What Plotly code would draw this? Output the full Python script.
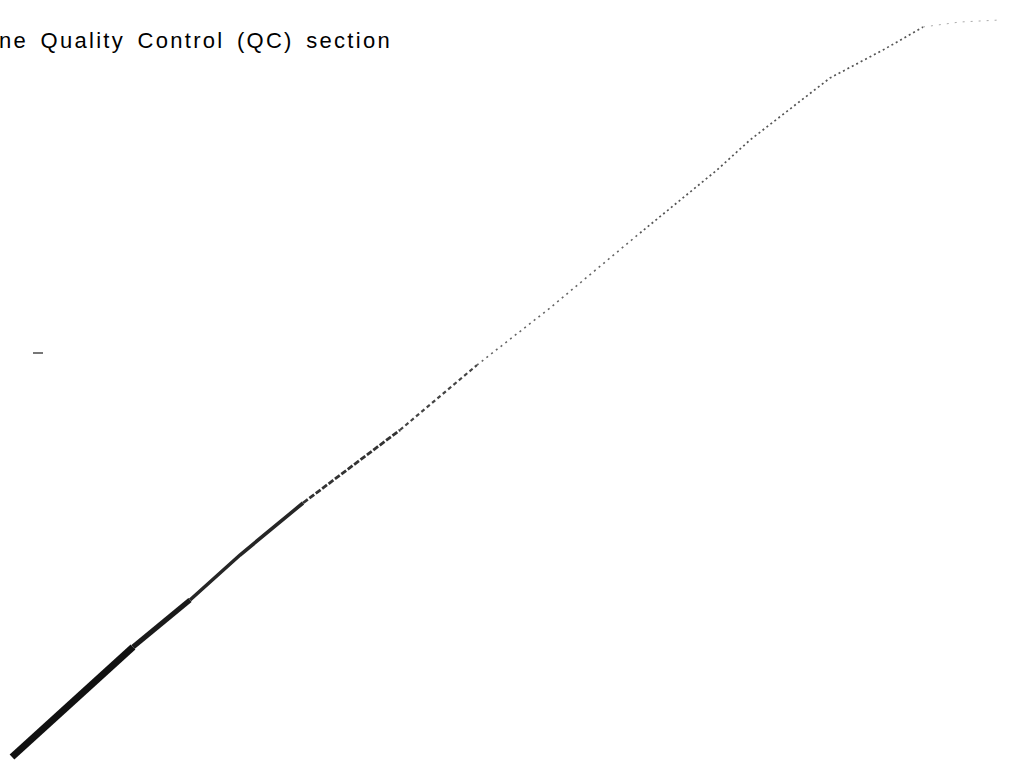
import plotly.graph_objects as go

# Traced curve values (horizontal position, height above bottom edge)
x_vals = [12, 67, 133, 190, 240, 303, 400, 477, 550, 640, 717, 750, 830, 883, 923, 960, 1000]
y_vals = [9, 59, 119, 166, 211, 263, 336, 401, 458, 533, 596, 626, 688, 716, 739, 744, 746]

# Small stray mark on the left of the scan
mark_x = [33, 43]
mark_y = [413, 413]

caption = "ne Quality Control (QC) section"

W, H = 1036, 766

fig = go.Figure()

# Segments with decreasing stroke weight (scan gets fainter toward upper right)
segments = [
    (0, 3, 7.0, "#111111", "solid"),
    (2, 4, 5.0, "#1a1a1a", "solid"),
    (3, 6, 3.6, "#262626", "solid"),
    (5, 7, 2.8, "#333333", "6px,2px"),
    (6, 8, 2.2, "#444444", "4px,3px"),
    (7, 10, 1.6, "#666666", "2px,4px"),
    (9, 15, 1.7, "#555555", "2px,3px"),
    (14, 17, 1.0, "#aaaaaa", "2px,6px"),
]
for a, b, w, c, d in segments:
    fig.add_trace(go.Scatter(
        x=x_vals[a:b], y=y_vals[a:b], mode="lines",
        line=dict(color=c, width=w, dash=d),
        hoverinfo="skip", showlegend=False,
    ))

fig.add_trace(go.Scatter(
    x=mark_x, y=mark_y, mode="lines",
    line=dict(color="#777777", width=2),
    hoverinfo="skip", showlegend=False,
))

fig.add_annotation(
    x=0, y=H - 40, xref="x", yref="y",
    text='<span style="letter-spacing:2.3px;word-spacing:4px">' + caption + "</span>",
    showarrow=False, xanchor="left", yanchor="middle", xshift=-3,
    font=dict(family="Liberation Sans, Arial", size=22, color="#000000"),
)

fig.update_xaxes(range=[0, W], visible=False, fixedrange=True)
fig.update_yaxes(range=[0, H], visible=False, fixedrange=True)
fig.update_layout(
    width=W, height=H,
    margin=dict(l=0, r=0, t=0, b=0),
    paper_bgcolor="white", plot_bgcolor="white",
)

fig.write_html("out.html", config={"displayModeBar": False})

# remove default browser body margin so the figure fills the window exactly
with open("out.html", "r", encoding="utf-8") as f:
    html = f.read()
html = html.replace("<body>", '<body style="margin:0;overflow:hidden">', 1)
with open("out.html", "w", encoding="utf-8") as f:
    f.write(html)
